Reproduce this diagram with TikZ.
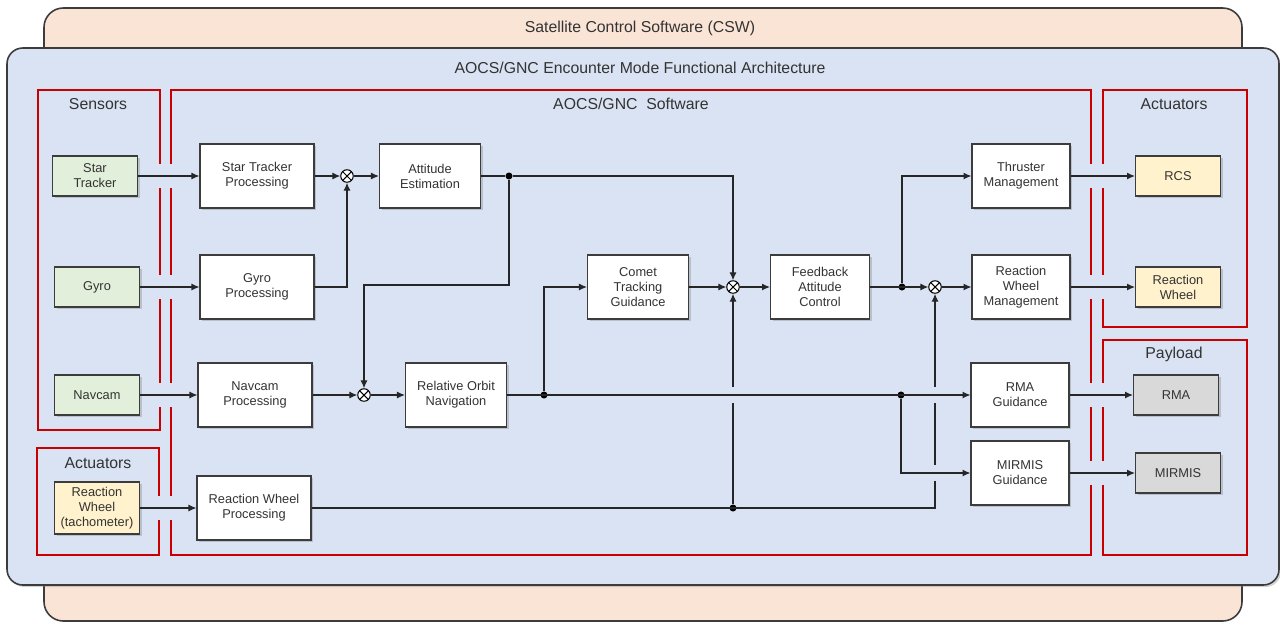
\documentclass[tikz,border=0pt]{standalone}
\usepackage{fontspec}
\setmainfont{Liberation Sans}
\usetikzlibrary{shadows,arrows.meta}

\definecolor{cswpeach}{RGB}{250,228,214}
\definecolor{gncblue}{RGB}{218,227,243}
\definecolor{sensgreen}{RGB}{226,239,218}
\definecolor{actyellow}{RGB}{255,242,204}
\definecolor{paygray}{RGB}{217,217,217}
\definecolor{redline}{RGB}{200,0,0}
\definecolor{edge}{RGB}{60,60,60}

\begin{document}
\begin{tikzpicture}[x=0.02cm,y=-0.02cm,
	boxshadow/.style={drop shadow={shadow xshift=1.2pt,shadow yshift=-1.2pt,opacity=0.35}},
	txt/.style={font=\fontsize{7.3}{8.6}\selectfont,text=black!80},
	block/.style={txt,draw=edge,fill=white,line width=0.7pt,minimum width=2.02cm,minimum height=1.28cm,align=center,inner sep=1pt,boxshadow},
	unit/.style={txt,draw=edge,line width=0.7pt,minimum width=1.7cm,minimum height=0.8cm,align=center,inner sep=1pt,boxshadow},
	sensor/.style={unit,fill=sensgreen},
	actuator/.style={unit,fill=actyellow},
	payload/.style={unit,fill=paygray},
	junct/.style={circle,draw=black,fill=white,line width=0.6pt,inner sep=0pt,minimum size=0.25cm,
		path picture={\draw[line width=0.6pt] (path picture bounding box.north west) -- (path picture bounding box.south east)
			(path picture bounding box.north east) -- (path picture bounding box.south west);}},
	dot/.style={circle,fill=black,inner sep=0pt,minimum size=4pt},
	wire/.style={draw=black!85,line width=0.6pt},
	arr/.style={-{Latex[length=4.5pt,width=4pt]}},
	redbox/.style={draw=redline,line width=1.3pt},
	header/.style={font=\fontsize{9}{11}\selectfont,text=black!80}]

	\useasboundingbox (0,0) rectangle (1280,623);
	\draw[edge,line width=0.9pt,fill=cswpeach,rounded corners=11pt] (44,8) rectangle (1242,621);
	\draw[edge,line width=0.9pt,fill=gncblue,rounded corners=9pt,boxshadow] (7,48) rectangle (1279,585);

	\node[header] (csw) at (640,28) {Satellite Control Software (CSW)};
	\node[header] (gnc) at (640,68) {AOCS/GNC Encounter Mode Functional Architecture};

	% red groups
	\draw[redbox] (38,90) rectangle (160,430);
	\draw[redbox] (37,448) rectangle (159,555);
	\draw[redbox] (171,90) rectangle (1091,555);
	\draw[redbox] (1103,90) rectangle (1247,327);
	\draw[redbox] (1103,340) rectangle (1247,555);
	\foreach \y in {176,287,395,508} \fill[gncblue] (153,\y-12) rectangle (178,\y+12);
	\foreach \y in {176,287,395,473} \fill[gncblue] (1084,\y-12) rectangle (1110,\y+12);

	\node[header] (sens) at (98,104) {Sensors};
	\node[header] (sw) at (631,104) {AOCS/GNC\ \ Software};
	\node[header] (actr) at (1174,104) {Actuators};
	\node[header] (pay) at (1174,354) {Payload};
	\node[header] (actl) at (98,463) {Actuators};

	\node[sensor] (st) at (95,176) {Star\\Tracker};
	\node[sensor] (gyro) at (97,287) {Gyro};
	\node[sensor] (nav) at (97,395) {Navcam};
	\node[actuator,minimum height=1.04cm] (rwt) at (97,508) {Reaction\\Wheel\\(tachometer)};

	\node[block,minimum width=2.28cm] (stp) at (257,176) {Star Tracker\\Processing};
	\node[block,minimum width=2.28cm] (gp) at (257,287) {Gyro\\Processing};
	\node[block,minimum width=2.28cm] (np) at (255,395) {Navcam\\Processing};
	\node[block,minimum width=2.28cm] (rwp) at (254,508) {Reaction Wheel\\Processing};

	\node[junct] (j1) at (347,176) {};
	\node[block] (ae) at (430,176) {Attitude\\Estimation};
	\node[junct] (j2) at (364,395) {};
	\node[block] (ron) at (456,395) {Relative Orbit\\Navigation};
	\node[block] (ctg) at (638,287) {Comet\\Tracking\\Guidance};
	\node[junct] (j3) at (733,287) {};
	\node[block,minimum width=1.98cm] (fac) at (820,287) {Feedback\\Attitude\\Control};
	\node[junct] (j4) at (935,287) {};

	\node[block,minimum width=1.96cm] (tm) at (1021,176) {Thruster\\Management};
	\node[block,minimum width=1.96cm] (rwm) at (1021,287) {Reaction\\Wheel\\Management};
	\node[block,minimum width=1.96cm] (rmag) at (1020,395) {RMA\\Guidance};
	\node[block,minimum width=1.96cm] (mirg) at (1020,473) {MIRMIS\\Guidance};

	\node[actuator] (rcs) at (1178,176) {RCS};
	\node[actuator] (rwa) at (1178,287) {Reaction\\Wheel};
	\node[payload] (rma) at (1176,395) {RMA};
	\node[payload] (mirmis) at (1178,473) {MIRMIS};

	\node[dot] (aedot) at (509,176) {};
	\node[dot] (rondot) at (544,395) {};
	\node[dot] (facdot) at (902,287) {};
	\node[dot] (rmadot) at (901,395) {};
	\node[dot] (rwdot) at (733,508) {};
	\coordinate (aebend) at (364,285);

	% wheel speed lines first, then hop gaps
	\draw[wire,arr] (rwt.east) -- (rwp.west);
	\draw[wire,arr] (rwp.east) -| (j4);
	\draw[wire,arr] (rwdot) -- (j3);
	\foreach \x/\y in {733/395,935/395,935/473} \fill[gncblue] (\x-3,\y-8) rectangle (\x+3,\y+8);

	\draw[wire,arr] (st.east) -- (stp.west);
	\draw[wire,arr] (gyro.east) -- (gp.west);
	\draw[wire,arr] (nav.east) -- (np.west);
	\draw[wire,arr] (stp.east) -- (j1);
	\draw[wire,arr] (gp.east) -| (j1);
	\draw[wire,arr] (j1) -- (ae.west);
	\draw[wire] (ae.east) -- (aedot);
	\draw[wire,arr] (aedot) -| (j3);
	\draw[wire,arr] (aedot) |- (aebend) -- (j2);
	\draw[wire,arr] (np.east) -- (j2);
	\draw[wire,arr] (j2) -- (ron.west);
	\draw[wire,arr] (ron.east) -- (rmag.west);
	\draw[wire,arr] (rondot) |- (ctg.west);
	\draw[wire,arr] (rmadot) |- (mirg.west);
	\draw[wire,arr] (ctg.east) -- (j3);
	\draw[wire,arr] (j3) -- (fac.west);
	\draw[wire,arr] (fac.east) -- (j4);
	\draw[wire,arr] (facdot) |- (tm.west);
	\draw[wire,arr] (j4) -- (rwm.west);

	\draw[wire,arr] (tm.east) -- (rcs.west);
	\draw[wire,arr] (rwm.east) -- (rwa.west);
	\draw[wire,arr] (rmag.east) -- (rma.west);
	\draw[wire,arr] (mirg.east) -- (mirmis.west);

\end{tikzpicture}
\end{document}
